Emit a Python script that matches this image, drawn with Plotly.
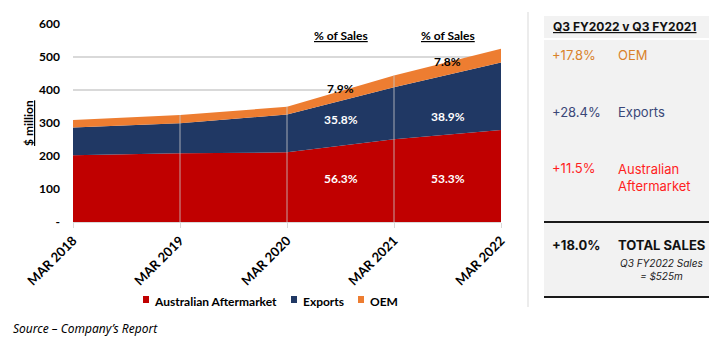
import plotly.graph_objects as go

periods = ["MAR 2018", "MAR 2019", "MAR 2020", "MAR 2021", "MAR 2022"]
aftermarket = [202, 208, 211, 251, 279]
exports = [84, 91, 115, 157, 204]
oem = [23, 25, 23, 36, 42]

pct_years = [3, 4]
pct_aftermarket = ["56.3%", "53.3%"]
pct_exports = ["35.8%", "38.9%"]
pct_oem = ["7.9%", "7.8%"]

yticks = [0, 100, 200, 300, 400, 500, 600]
yticktext = ["-", "100", "200", "300", "400", "500", "600"]

cmp_values = ["+17.8%", "+28.4%", "+11.5%"]
cmp_labels = ["OEM", "Exports", "Australian<br>Aftermarket"]
total_change = "+18.0%"
q3_sales = 525

RED = "#c00000"
NAVY = "#203864"
ORANGE = "#ed7d31"
FONT = "Lato"
PFONT = "Inter"

W, H = 726, 344
L, R, T, B = 73, 501, 24, 222


def xp(px):
    return (px - L) / (R - L)


def yp(py):
    return (B - py) / (B - T)


xs = list(range(len(periods)))
series = [("Australian Aftermarket", aftermarket, RED),
          ("Exports", exports, NAVY),
          ("OEM", oem, ORANGE)]
fig = go.Figure()
for name, vals, col in series:
    fig.add_trace(go.Scatter(x=xs, y=vals, stackgroup="s", mode="none",
                             fillcolor=col, name=name, showlegend=False,
                             hoverinfo="skip"))

totals = [a + e + o for a, e, o in zip(aftermarket, exports, oem)]
shapes = []
for i in range(1, len(periods) - 1):
    shapes.append(dict(type="line", xref="x", yref="y", x0=i, x1=i, y0=0,
                       y1=totals[i], line=dict(color="rgba(200,200,200,0.8)", width=1), layer="above"))

annotations = []


def ann(**kw):
    kw.setdefault("showarrow", False)
    kw.setdefault("yanchor", "middle")
    kw.setdefault("xanchor", "center")
    annotations.append(kw)


# % labels between years
for k, yr in enumerate(pct_years):
    xm = yr - 0.5
    ann(x=xm, y=133, xref="x", yref="y", text="<b>%s</b>" % pct_aftermarket[k],
        font=dict(family=FONT, size=12, color="white"))
    ann(x=xm, y=310 + 9 * k, xref="x", yref="y", text="<b>%s</b>" % pct_exports[k],
        font=dict(family=FONT, size=12, color="white"))
    ann(x=xm, y=406 + 79 * k, xref="x", yref="y", text="<b>%s</b>" % pct_oem[k],
        font=dict(family=FONT, size=12, color="black"))
    ann(x=xm, y=564, xref="x", yref="y", text="<b><u>% of Sales</u></b>",
        font=dict(family=FONT, size=12, color="black"))

ann(x=xp(28), y=yp(123), xref="paper", yref="paper", text="<b><u>$ million</u></b>",
    textangle=-90, font=dict(family=FONT, size=12, color="black"))
ann(x=xp(11), y=yp(328), xref="paper", yref="paper", xanchor="left",
    text="<i>Source – Company’s Report</i>",
    font=dict(family="Noto Sans", size=12, color="black"))

# manual legend (small squares + bold labels)
leg_sq = [143, 291, 358]
leg_tx = [152, 301, 368]
for (name, _, col), sx, tx in zip(series, leg_sq, leg_tx):
    shapes.append(dict(type="rect", xref="paper", yref="paper", x0=xp(sx), x1=xp(sx + 6),
                       y0=yp(303), y1=yp(296), fillcolor=col, line=dict(width=0)))
    ann(x=xp(tx), y=yp(301), xref="paper", yref="paper", xanchor="left",
        text="<b>%s</b>" % name, font=dict(family=FONT, size=12, color="black"))

# right panel
shapes.append(dict(type="line", xref="paper", yref="paper", x0=xp(528), x1=xp(528), y0=yp(12), y1=yp(307),
                   line=dict(color="#d9d9d9", width=1)))
shapes.append(dict(type="rect", xref="paper", yref="paper", x0=xp(544), x1=xp(709), y0=yp(16), y1=yp(38),
                   fillcolor="#f2f2f2", line=dict(width=0), layer="below"))
shapes.append(dict(type="rect", xref="paper", yref="paper", x0=xp(544), x1=xp(709), y0=yp(40), y1=yp(297),
                   fillcolor="#f2f2f2", line=dict(width=0), layer="below"))
for yy in (222, 297):
    shapes.append(dict(type="line", xref="paper", yref="paper", x0=xp(544), x1=xp(709), y0=yp(yy), y1=yp(yy),
                       line=dict(color="#1a1a1a", width=2)))

ann(x=xp(551), y=yp(27), xref="paper", yref="paper", xanchor="left",
    text="<b><u>Q3 FY2022 v Q3 FY2021</u></b>", font=dict(family=PFONT, size=12, color="#111111"))
row_colors = ["#d9822b", "#3a4778", "#ff1e1e"]
row_val_y = [55, 112, 168]
row_lab_y = [55, 112, 177]
for v, lab, c, vy, ly in zip(cmp_values, cmp_labels, row_colors, row_val_y, row_lab_y):
    ann(x=xp(550), y=yp(vy), xref="paper", yref="paper", xanchor="left",
        text=v, font=dict(family=PFONT, size=13, color=c))
    ann(x=xp(616), y=yp(ly), xref="paper", yref="paper", xanchor="left", align="left",
        text=lab, font=dict(family=PFONT, size=13, color=c))
ann(x=xp(550), y=yp(245), xref="paper", yref="paper", xanchor="left",
    text="<b>%s</b>" % total_change, font=dict(family=PFONT, size=13, color="#111111"))
ann(x=xp(616), y=yp(245), xref="paper", yref="paper", xanchor="left",
    text="<b>TOTAL SALES</b>", font=dict(family=PFONT, size=13, color="#111111"))
ann(x=xp(661), y=yp(269), xref="paper", yref="paper",
    text="<i>Q3 FY2022 Sales<br>= $%dm</i>" % q3_sales,
    font=dict(family=PFONT, size=10, color="#222222"))

fig.update_layout(
    width=W, height=H, margin=dict(l=L, r=W - R, t=T, b=H - B),
    paper_bgcolor="white", plot_bgcolor="white",
    showlegend=False,
    shapes=shapes, annotations=annotations,
    xaxis=dict(range=[0, 4], tickvals=xs, ticktext=["<b>%s</b>" % p for p in periods],
               tickangle=-45, showgrid=False, zeroline=False, showline=True, linecolor="#d9d9d9",
               ticks="outside", ticklen=5, tickcolor="#d9d9d9",
               tickfont=dict(family=FONT, size=13, color="black")),
    yaxis=dict(range=[0, 600], tickvals=yticks, ticktext=["<b>%s</b>" % t for t in yticktext],
               showgrid=True, gridcolor="#d9d9d9", gridwidth=1.5, zeroline=False,
               ticklabelstandoff=12,
               tickfont=dict(family=FONT, size=12, color="black")),
)

fig.write_html("out.html")
